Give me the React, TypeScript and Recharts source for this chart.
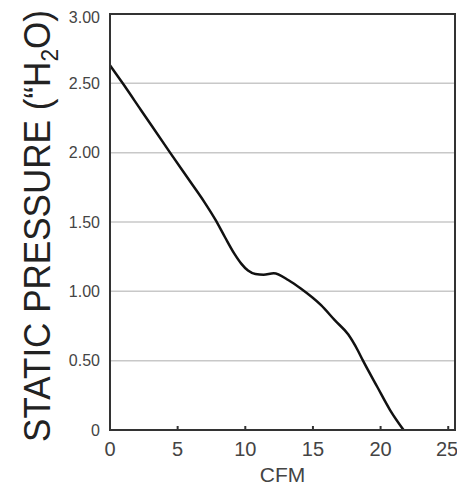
import { CartesianGrid, Label, Line, LineChart, ReferenceArea, XAxis, YAxis } from "recharts";

// fan curve
const cfm = [0, 0.94, 2.27, 4.44, 6.12, 7.0, 7.8, 8.5, 9.2, 9.7, 10.2, 10.75, 11.35, 12.1, 13.2, 14.1, 15.6, 16.63, 17.6, 18.3, 18.7, 19.76, 20.7, 21.7];
const pressure = [2.63, 2.5, 2.31, 2.0, 1.765, 1.64, 1.515, 1.39, 1.27, 1.2, 1.15, 1.125, 1.12, 1.13, 1.08, 1.02, 0.9, 0.79, 0.69, 0.577, 0.5, 0.31, 0.144, 0];

const xTicks = [0, 5, 10, 15, 20, 25];
const yTicks = [0, 0.5, 1, 1.5, 2, 2.5, 3];

const data = cfm.map((x, i) => ({ cfm: x, pressure: pressure[i] }));

const font = "'Liberation Sans', Arial, sans-serif";

const YTitle = () => {
  const x = 42;
  const y = 218;
  return (
    <text
      x={x}
      y={y}
      transform={`rotate(-90, ${x}, ${y})`}
      textAnchor="middle"
      fontFamily={font}
      fontSize={37}
      fill="#222"
      textLength={432}
      lengthAdjust="spacingAndGlyphs"
    >
      STATIC PRESSURE (“H
      <tspan fontSize={24} dy={8}>2</tspan>
      <tspan dy={-8}>O)</tspan>
    </text>
  );
};

export default function App() {
  return (
    <LineChart
      width={449}
      height={478}
      data={data}
      margin={{ top: 6, right: 2, left: 0, bottom: 0 }}
      style={{ fontFamily: font }}
    >
      <CartesianGrid vertical={false} stroke="#c8c8c8" strokeWidth={1.5} />
      <XAxis
        dataKey="cfm"
        type="number"
        domain={[0, 25.5]}
        ticks={xTicks}
        height={56}
        stroke="#333"
        strokeWidth={2}
        tickSize={-4}
        tickMargin={16}
        tick={{ fill: "#444", fontSize: 20 }}
      >
        <Label value="CFM" position="insideBottom" offset={4} fill="#444" fontSize={21} />
      </XAxis>
      <YAxis
        type="number"
        domain={[0, 3]}
        ticks={yTicks}
        width={102}
        stroke="#333"
        strokeWidth={2}
        tickLine={false}
        tickMargin={4}
        tick={{ fill: "#444", fontSize: 16 }}
        tickFormatter={(v) => (v === 0 ? "0" : v.toFixed(2))}
        label={<YTitle />}
      />
      <ReferenceArea x1={0} x2={25.5} y1={0} y2={3} fill="none" stroke="#333" strokeWidth={2} ifOverflow="extendDomain" />
      <Line
        type="monotone"
        dataKey="pressure"
        stroke="#111"
        strokeWidth={2.5}
        dot={false}
        isAnimationActive={false}
      />
    </LineChart>
  );
}
